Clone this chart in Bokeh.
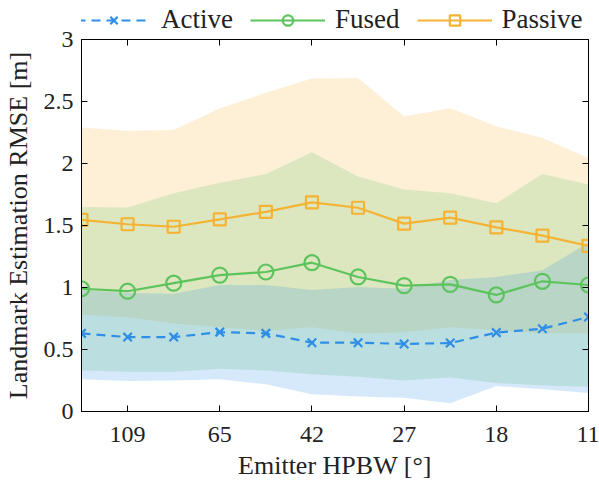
import numpy as np
from bokeh.plotting import figure
from bokeh.layouts import column
from bokeh.models import (FixedTicker, LinearAxis, Legend, LegendItem, Range1d)
from bokeh.embed import file_html
from bokeh.resources import INLINE

# Emitter beamwidth steps (index positions along x) and the labelled ticks
positions = list(range(12))
tick_positions = [1, 3, 5, 7, 9, 11]
tick_labels = ["109", "65", "42", "27", "18", "11"]

# Landmark estimation RMSE [m]: mean and spread band per beamwidth step
active_mean = [0.63, 0.60, 0.60, 0.64, 0.63, 0.555, 0.555, 0.545, 0.552, 0.636, 0.668, 0.762]
active_lo = [0.26, 0.245, 0.25, 0.26, 0.22, 0.14, 0.12, 0.11, 0.067, 0.205, 0.18, 0.15]
active_hi = [0.98, 0.955, 0.95, 1.02, 1.02, 0.98, 1.005, 0.99, 1.06, 1.085, 1.14, 1.36]

fused_mean = [0.99, 0.97, 1.035, 1.10, 1.125, 1.20, 1.085, 1.015, 1.025, 0.94, 1.05, 1.02]
fused_lo = [0.33, 0.32, 0.32, 0.345, 0.33, 0.30, 0.28, 0.25, 0.275, 0.23, 0.21, 0.20]
fused_hi = [1.65, 1.645, 1.76, 1.845, 1.915, 2.09, 1.895, 1.79, 1.76, 1.68, 1.915, 1.83]

passive_mean = [1.545, 1.51, 1.49, 1.55, 1.61, 1.687, 1.643, 1.515, 1.563, 1.485, 1.418, 1.336]
passive_lo = [0.78, 0.76, 0.71, 0.68, 0.65, 0.68, 0.63, 0.64, 0.68, 0.655, 0.63, 0.63]
passive_hi = [2.29, 2.265, 2.27, 2.445, 2.57, 2.685, 2.69, 2.38, 2.445, 2.30, 2.205, 2.045]

y_tick_values = [0, 0.5, 1, 1.5, 2, 2.5, 3]
y_tick_labels = ["0", "0.5", "1", "1.5", "2", "2.5", "3"]

BLUE = "#2F8FE6"
GREEN = "#5DC35D"
ORANGE = "#F5B335"
FONT = "Liberation Serif"

LEGEND_H = 30
p = figure(width=599, height=484 - LEGEND_H, output_backend="svg", toolbar_location=None,
           x_range=Range1d(0, 11), y_range=Range1d(0, 3),
           min_border_left=81, min_border_right=11, min_border_bottom=73, min_border_top=9)

p.xgrid.visible = False
p.ygrid.visible = False
p.outline_line_color = "black"
p.outline_line_width = 1
p.background_fill_color = "white"
p.border_fill_color = "white"

# shaded spread bands
p.varea(x=positions, y1=passive_lo, y2=passive_hi, fill_color=ORANGE, fill_alpha=0.2)
p.varea(x=positions, y1=fused_lo, y2=fused_hi, fill_color=GREEN, fill_alpha=0.2)
p.varea(x=positions, y1=active_lo, y2=active_hi, fill_color=BLUE, fill_alpha=0.2)

# mean curves with markers
line_styles = {
    "Active": dict(color=BLUE, dash="9 6", marker="x", size=12),
    "Fused": dict(color=GREEN, dash="solid", marker="circle", size=15),
    "Passive": dict(color=ORANGE, dash="solid", marker="square", size=12),
}
means = {"Active": active_mean, "Fused": fused_mean, "Passive": passive_mean}

for name, st in line_styles.items():
    p.line(positions, means[name], line_color=st["color"], line_width=2.2, line_dash=st["dash"])
    p.scatter(positions, means[name], marker=st["marker"], size=st["size"],
              line_color=st["color"], fill_color=None, line_width=2.2)

xticker = FixedTicker(ticks=tick_positions)
yticker = FixedTicker(ticks=y_tick_values)


def style_axis(ax):
    ax.axis_line_color = "black"
    ax.major_tick_line_color = "black"
    ax.major_tick_in = 6
    ax.major_tick_out = 0
    ax.minor_tick_line_color = None
    ax.major_label_text_font = FONT
    ax.major_label_text_color = "#222222"
    ax.major_label_text_font_size = "24px"
    ax.axis_label_text_font = FONT
    ax.axis_label_text_font_style = "normal"
    ax.axis_label_text_color = "#222222"
    ax.axis_label_text_font_size = "26px"


p.xaxis.ticker = xticker
p.xaxis.major_label_overrides = {t: l for t, l in zip(tick_positions, tick_labels)}
p.xaxis.axis_label = "Emitter HPBW [°]"
p.xaxis.major_label_standoff = 15
p.xaxis.axis_label_standoff = 6
style_axis(p.xaxis[0])

p.yaxis.ticker = yticker
p.yaxis.major_label_overrides = dict(zip(y_tick_values, y_tick_labels))
p.yaxis.axis_label = "Landmark Estimation RMSE [m]"
p.yaxis.major_label_standoff = 8
p.yaxis.axis_label_standoff = 8
style_axis(p.yaxis[0])

# box ticks on the top and right edges, without labels
top_axis = LinearAxis(ticker=xticker, major_label_overrides={t: "" for t in tick_positions})
style_axis(top_axis)
top_axis.major_label_standoff = 0
top_axis.major_label_text_font_size = "1px"
p.add_layout(top_axis, "above")

right_axis = LinearAxis(ticker=yticker, major_label_overrides={t: "" for t in y_tick_values})
style_axis(right_axis)
right_axis.major_label_standoff = 0
right_axis.major_label_text_font_size = "1px"
p.add_layout(right_axis, "right")

# legend strip above the plot; its curves carry the same styles but lie outside its view
lg = figure(width=599, height=LEGEND_H, output_backend="svg", toolbar_location=None,
            x_range=Range1d(100, 101), y_range=Range1d(100, 101),
            x_axis_location=None, y_axis_location=None,
            min_border_left=0, min_border_right=0, min_border_top=0, min_border_bottom=0)
lg.xgrid.visible = False
lg.ygrid.visible = False
lg.outline_line_color = None
lg.background_fill_color = "white"
lg.border_fill_color = "white"

items = []
for name, st in line_styles.items():
    r1 = lg.line(positions, means[name], line_color=st["color"], line_width=2.2,
                 line_dash=st["dash"])
    r2 = lg.scatter(positions, means[name], marker=st["marker"], size=st["size"] - 1,
                    line_color=st["color"], fill_color=None, line_width=2.2)
    items.append(LegendItem(label=name, renderers=[r1, r2]))

legend = Legend(items=items, orientation="horizontal", location=(-5, -5))
legend.label_text_font = FONT
legend.label_text_font_size = "27px"
legend.label_text_color = "#222222"
legend.glyph_width = 75
legend.glyph_height = 26
legend.label_standoff = 10
legend.spacing = 17
legend.padding = 0
legend.margin = 0
legend.border_line_color = None
legend.background_fill_alpha = 0
lg.add_layout(legend, "center")

layout = column(lg, p, spacing=0)
open("out.html", "w").write(file_html(layout, INLINE))
